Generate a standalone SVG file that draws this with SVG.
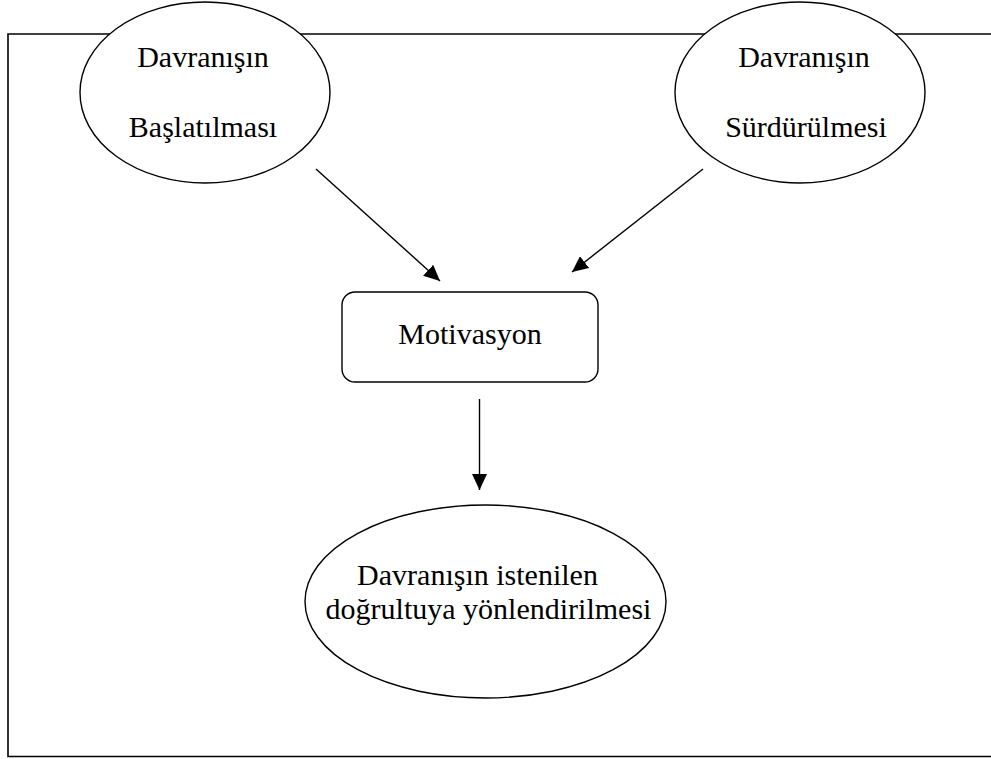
<svg xmlns="http://www.w3.org/2000/svg" width="991" height="759" viewBox="0 0 991 759">
  <style>
    .frame { fill: none; stroke: #000; stroke-width: 1.6; }
    .shape { fill: #fff; stroke: #000; stroke-width: 1.4; }
    .edge { fill: none; stroke: #000; stroke-width: 1.4; marker-end: url(#arrow); }
    text { font-family: "Liberation Serif", "Times New Roman", serif; font-size: 30px; fill: #000; text-anchor: middle; }
  </style>
  <defs>
    <marker id="arrow" viewBox="0 0 16 15" refX="16" refY="7.5" markerWidth="16" markerHeight="15" markerUnits="userSpaceOnUse" orient="auto">
      <path d="M0,0 L16,7.5 L0,15 z" fill="#000"/>
    </marker>
  </defs>

  <rect width="991" height="759" fill="#fff"/>

  <!-- open frame: left, top and bottom sides -->
  <path class="frame" d="M991,34 H8 V756.5 H991"/>

  <g id="connectors">
    <line class="edge" x1="316" y1="169" x2="440" y2="281"/>
    <line class="edge" x1="703" y1="169" x2="572" y2="272"/>
    <line class="edge" x1="479.5" y1="399" x2="479.5" y2="490"/>
  </g>

  <g id="node-baslatilmasi">
    <ellipse class="shape" cx="205" cy="92.5" rx="125" ry="90.5"/>
    <text x="203" y="67">Davranışın</text>
    <text x="203" y="137">Başlatılması</text>
  </g>

  <g id="node-surdurulmesi">
    <ellipse class="shape" cx="800" cy="92.5" rx="125" ry="90.5"/>
    <text x="804" y="67">Davranışın</text>
    <text x="806" y="137">Sürdürülmesi</text>
  </g>

  <g id="node-motivasyon">
    <rect class="shape" x="342" y="292" width="256" height="90" rx="13" ry="13"/>
    <text x="470" y="344">Motivasyon</text>
  </g>

  <g id="node-yonlendirilmesi">
    <ellipse class="shape" cx="485.5" cy="601.5" rx="180.5" ry="96.5"/>
    <text x="477.5" y="585">Davranışın istenilen</text>
    <text x="488.5" y="619">doğrultuya yönlendirilmesi</text>
  </g>
</svg>
